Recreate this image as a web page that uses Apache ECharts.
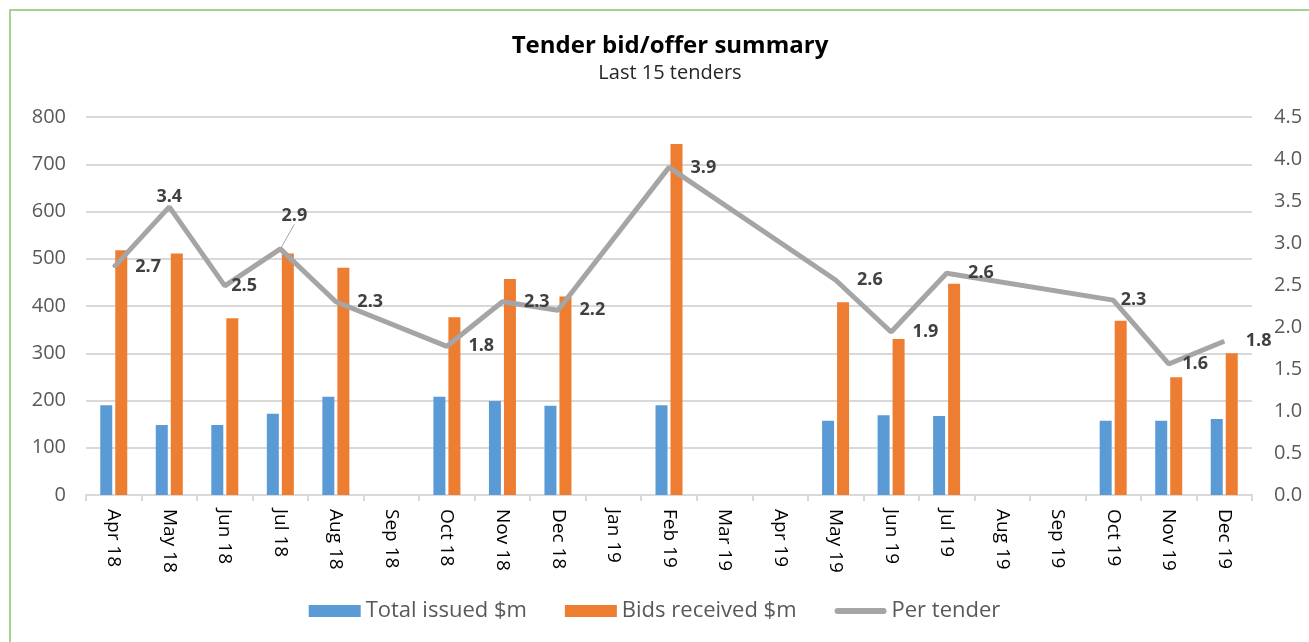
<!DOCTYPE html>
<html>
<head>
<meta charset="utf-8">
<title>Tender bid/offer summary</title>
<script src="https://cdn.jsdelivr.net/npm/echarts@6/dist/echarts.min.js"></script>
<style>
  html, body { margin: 0; padding: 0; background: #fff; }
  #frame {
    position: absolute; left: 9px; top: 9px; width: 1400px; height: 700px;
    border-left: 2px solid #a9d18e; border-top: 2px solid #a9d18e;
  }
  #chart { position: absolute; left: 0; top: 0; width: 1309px; height: 642px; }
</style>
</head>
<body>
<div id="frame"></div>
<div id="chart"></div>
<script>
// months of the last tenders (gaps = no tender that month)
var months = ['Apr 18', 'May 18', 'Jun 18', 'Jul 18', 'Aug 18', 'Sep 18', 'Oct 18', 'Nov 18', 'Dec 18',
  'Jan 19', 'Feb 19', 'Mar 19', 'Apr 19', 'May 19', 'Jun 19', 'Jul 19', 'Aug 19', 'Sep 19',
  'Oct 19', 'Nov 19', 'Dec 19']
var totalIssued = [190, 148, 148, 172, 208, null, 208, 199, 189, null, 190, null, null,
  157, 169, 167, null, null, 157, 157, 161]
var bidsReceived = [518, 511, 374, 511, 481, null, 376, 457, 420, null, 743, null, null,
  408, 330, 447, null, null, 369, 249, 300]
var perTender = [2.71, 3.43, 2.49, 2.93, 2.30, null, 1.77, 2.30, 2.20, null, 3.90, null, null,
  2.56, 1.94, 2.64, null, null, 2.32, 1.56, 1.83]

var font = 'Open Sans'

// label placement tweaks (like Excel's hand-placed labels)
var labelTweaks = {
  1: { position: 'top', distance: 1, offset: [12, 0] },
  2: { distance: 6, offset: [0, -11] },
  3: { position: 'top', distance: 5 },
  4: { offset: [0, 1] },
  13: { offset: [0, 2] },
  14: { offset: [0, 3] },
  18: { distance: 7, offset: [0, -4] },
  19: { distance: 13, offset: [0, -11] }
}

var lineData = perTender.map(function (v, i) {
  var item = { value: v }
  if (labelTweaks[i]) item.label = labelTweaks[i]
  if (i === 3) item.labelLine = { show: true, lineStyle: { color: '#a5a5a5', width: 1 } }
  return item
})

var chart = echarts.init(document.getElementById('chart'))
chart.setOption({
  animation: false,
  textStyle: { fontFamily: font },
  title: {
    text: 'Tender bid/offer summary',
    subtext: 'Last 15 tenders',
    left: 665,
    textAlign: 'center',
    top: 29,
    itemGap: 5,
    textStyle: { fontFamily: font, fontSize: 24, fontWeight: 'bold', color: '#000' },
    subtextStyle: { fontFamily: font, fontSize: 20, color: '#262626' }
  },
  legend: {
    bottom: 15,
    left: 'center',
    itemWidth: 52,
    itemHeight: 12,
    itemGap: 38,
    textStyle: { fontFamily: font, fontSize: 22, color: '#595959' },
    data: [
      { name: 'Total issued $m', icon: 'rect' },
      { name: 'Bids received $m', icon: 'rect' },
      { name: 'Per tender', icon: 'path://M3,0h46a3,3 0 0 1 0,6h-46a3,3 0 0 1 0,-6z' }
    ]
  },
  grid: { left: 86, right: 57, top: 117, bottom: 147 },
  xAxis: {
    type: 'category',
    data: months,
    axisLine: { lineStyle: { color: '#d9d9d9', width: 2 } },
    axisTick: { show: true, length: 6, interval: 0, lineStyle: { color: '#d9d9d9', width: 2 } },
    axisLabel: { interval: 0, rotate: -90, fontSize: 19, color: '#000', margin: 14 }
  },
  yAxis: [
    {
      type: 'value', min: 0, max: 800, interval: 100,
      axisLine: { show: false }, axisTick: { show: false },
      axisLabel: { fontSize: 20, color: '#595959', margin: 20 },
      splitLine: { lineStyle: { color: '#d9d9d9', width: 2 } }
    },
    {
      type: 'value', min: 0, max: 4.5, interval: 0.5,
      axisLine: { show: false }, axisTick: { show: false },
      axisLabel: { fontSize: 20, color: '#595959', margin: 22, formatter: function (v) { return v.toFixed(1) } },
      splitLine: { show: false }
    }
  ],
  series: [
    {
      name: 'Total issued $m', type: 'bar', data: totalIssued,
      barWidth: 12, barGap: '25%',
      itemStyle: { color: '#5b9bd5' }
    },
    {
      name: 'Bids received $m', type: 'bar', data: bidsReceived,
      barWidth: 12,
      itemStyle: { color: '#ed7d31' }
    },
    {
      name: 'Per tender', type: 'line', yAxisIndex: 1, data: lineData,
      connectNulls: true,
      symbol: 'circle', symbolSize: 1,
      itemStyle: { color: '#a5a5a5' },
      lineStyle: { color: '#a5a5a5', width: 5 },
      label: {
        show: true, position: 'right', distance: 21,
        fontFamily: font, fontSize: 18, fontWeight: 'bold', color: '#404040',
        formatter: function (p) { return p.value == null ? '' : p.value.toFixed(1) }
      },
      labelLayout: function (p) {
        if (p.dataIndex === 3) return { dx: 14, dy: -19 }
        return {}
      }
    }
  ]
})
</script>
</body>
</html>
